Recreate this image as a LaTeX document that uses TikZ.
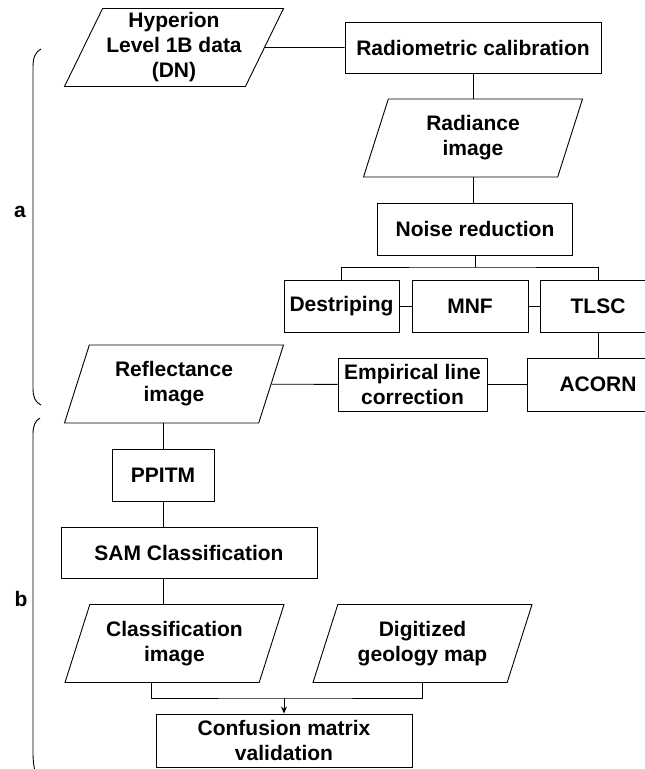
\documentclass[tikz,border=0pt]{standalone}
\usepackage{fontspec}
\setmainfont{Liberation Sans}
\usetikzlibrary{shapes.geometric,arrows.meta}
\begin{document}
\begin{tikzpicture}[x = 1pt, y = -1pt, line width = 0.9pt,
	every node/.style = {font = \fontsize{21}{25}\selectfont\bfseries, align = center},
	box/.style = {draw, rectangle, inner sep = 2pt},
	dataset/.style = {draw, trapezium, trapezium left angle = 62, trapezium right angle = 118,
		trapezium stretches body, minimum width = 219pt, minimum height = 78pt, inner sep = 1pt}]
\useasboundingbox (0,0) rectangle (645,769);
\node[dataset] (hyperion) at (174, 47.5) {Hyperion\\Level 1B data\\(DN)};
\node[box, minimum width = 256pt, minimum height = 51pt] (radcal) at (473, 47.5) {Radiometric calibration};
\node[dataset] (radiance) at (473, 138) {Radiance\\image};
\node[box, minimum width = 195pt, minimum height = 52pt] (noise) at (475, 229) {Noise reduction};
\node[box, minimum width = 115pt, minimum height = 52pt] (destrip) at (341.5, 306) {Destriping};
\node[box, minimum width = 116pt, minimum height = 52pt] (mnf) at (470, 306) {MNF};
\node[box, minimum width = 116pt, minimum height = 52pt] (tlsc) at (598, 306) {TLSC};
\node[box, minimum width = 142pt, minimum height = 53pt] (acorn) at (598, 384.5) {ACORN};
\node[box, minimum width = 149pt, minimum height = 53pt] (empir) at (412.5, 384.5) {Empirical line\\correction};
\node[dataset] (refl) at (174, 384) {Reflectance\\image};
\node[box, minimum width = 102pt, minimum height = 52pt] (ppitm) at (163, 475) {PPITM};
\node[box, minimum width = 256pt, minimum height = 51pt] (sam) at (189, 552.5) {SAM Classification};
\node[dataset] (classif) at (174.5, 643.5) {Classification\\image};
\node[dataset] (digit) at (422.5, 643.5) {Digitized\\geology map};
\node[box, minimum width = 256pt, minimum height = 53pt] (confus) at (284, 740.5) {Confusion matrix\\validation};
\coordinate (split) at (475, 267);
\coordinate (merge) at (284, 698);
\foreach \a/\b in {hyperion/radcal, destrip/mnf, mnf/tlsc, acorn/empir, empir/refl}
{
	\draw (\a) -- (\b);
}
\draw (radcal.south) -- (radcal.south |- radiance.north);
\draw (radiance.south) -- (radiance.south |- noise.north);
\draw (noise.south) -- (split);
\draw (destrip.north) |- (split) -| (tlsc.north);
\draw (tlsc.south) -- (tlsc.south |- acorn.north);
\draw (ppitm.north) -- (ppitm.north |- refl.south);
\draw (ppitm.south) -- (ppitm.south |- sam.north);
\draw (ppitm.south |- sam.south) -- (ppitm.south |- classif.north);
\draw ([xshift = -23pt]classif.south) |- (merge) -| (digit.south);
\draw[-{Stealth[length = 7pt, width = 6pt]}] (merge) -- (confus.north);
\draw (41,49) .. controls (35,52) and (33,58) .. (33,67) -- (33,388) .. controls (33,397) and (35,402) .. (41,405);
\draw (40,418) .. controls (35,421) and (33,426) .. (33,434) -- (33,752) .. controls (33,762) and (34,768) .. (36,776);
\node (lbla) at (20, 212) {a};
\node (lblb) at (21, 599) {b};
\end{tikzpicture}
\end{document}
